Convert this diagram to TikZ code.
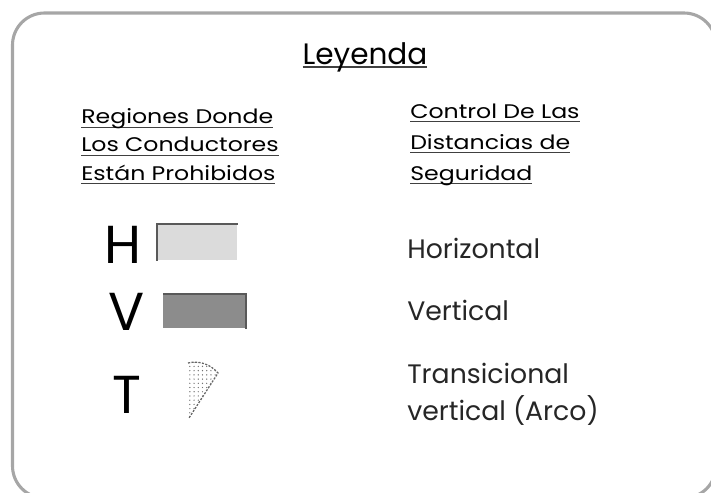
\documentclass[tikz,border=0pt]{standalone}
\usepackage{fontspec}
\setmainfont{Poppins}
\newfontfamily\cabfont{Poppins}[FakeStretch=1.2]
\usetikzlibrary{patterns}
\newcommand{\subrayar}[2][1pt]{\setbox0\hbox{#2}\rlap{\textcolor{black!75}{\rule[-3pt]{\wd0}{#1}}}\box0}
\tikzstyle{marco} = [draw=black!35, line width=2.2pt, rounded corners=0.8cm]
\tikzstyle{titulo} = [anchor=base, inner sep=0pt, font=\fontsize{21}{26}\selectfont]
\tikzstyle{cabecera} = [align=left, anchor=base west, inner sep=0pt, font=\cabfont\fontsize{14}{20}\selectfont]
\tikzstyle{letra} = [anchor=base, inner sep=0pt, font=\fontsize{38}{40}\selectfont]
\tikzstyle{etiqueta} = [align=left, anchor=base west, inner sep=0pt, font=\fontsize{19}{26}\selectfont, text=black!85]
\tikzstyle{zonaH} = [rectangle, anchor=north west, inner sep=0pt, minimum width=2cm, minimum height=0.9cm, fill=black!14]
\tikzstyle{zonaV} = [rectangle, anchor=north west, inner sep=0pt, minimum width=2.05cm, minimum height=0.85cm, fill=black!45]
\tikzstyle{borde} = [draw=black!65, line width=1.3pt]
\tikzstyle{arco} = [draw=black!60, dashed, dash pattern=on 1.5pt off 1pt, line width=0.9pt]

\begin{document}
\begin{tikzpicture}[x=0.025cm, y=-0.025cm]
    \useasboundingbox (0,0) rectangle (711,493);
    \clip (0,0) rectangle (711,493);
    \draw [marco] (12.5,13) rectangle (716,498);

    % titulo y cabeceras (base = ultima linea)
    \node (leyenda) [titulo] at (365,64) {\subrayar[1.4pt]{Leyenda}};
    \node (regiones) [cabecera] at (81,180) {\subrayar{Regiones Donde}\\ \subrayar{Los Conductores}\\ \subrayar{Están Prohibidos}};
    \node (control) [cabecera, font=\cabfont\fontsize{14}{22}\selectfont] at (410,180) {\subrayar{Control De Las}\\ \subrayar{Distancias de}\\ \subrayar{Seguridad}};

    \node (letraH) [letra] at (123,263) {H};
    \node (letraV) [letra] at (127,330) {V};
    \node (letraT) [letra] at (127,413) {T};

    \node (zonaH) [zonaH] at (157,224) {};
    \node (zonaV) [zonaV] at (163,294) {};
    \draw [borde] (zonaH.south west) -- (zonaH.north west) -- (zonaH.north east);
    \draw [borde] (zonaV.north west) -- (zonaV.north east) -- (zonaV.south east);

    \coordinate (arcoA) at (188,363);
    \coordinate (arcoB) at (218,373);
    \coordinate (arcoC) at (189,418);
    \fill [pattern=dots, pattern color=black!55] (arcoC) -- (arcoA) .. controls (200,360) and (211,365) .. (arcoB) -- cycle;
    \draw [arco] (arcoA) .. controls (200,360) and (211,365) .. (arcoB) -- (arcoC);

    \node (horizontal) [etiqueta] at (407,258) {Horizontal};
    \node (vertical) [etiqueta] at (407,320) {Vertical};
    \node (transicional) [etiqueta] at (407,420) {Transicional\\vertical (Arco)};
\end{tikzpicture}
\end{document}
